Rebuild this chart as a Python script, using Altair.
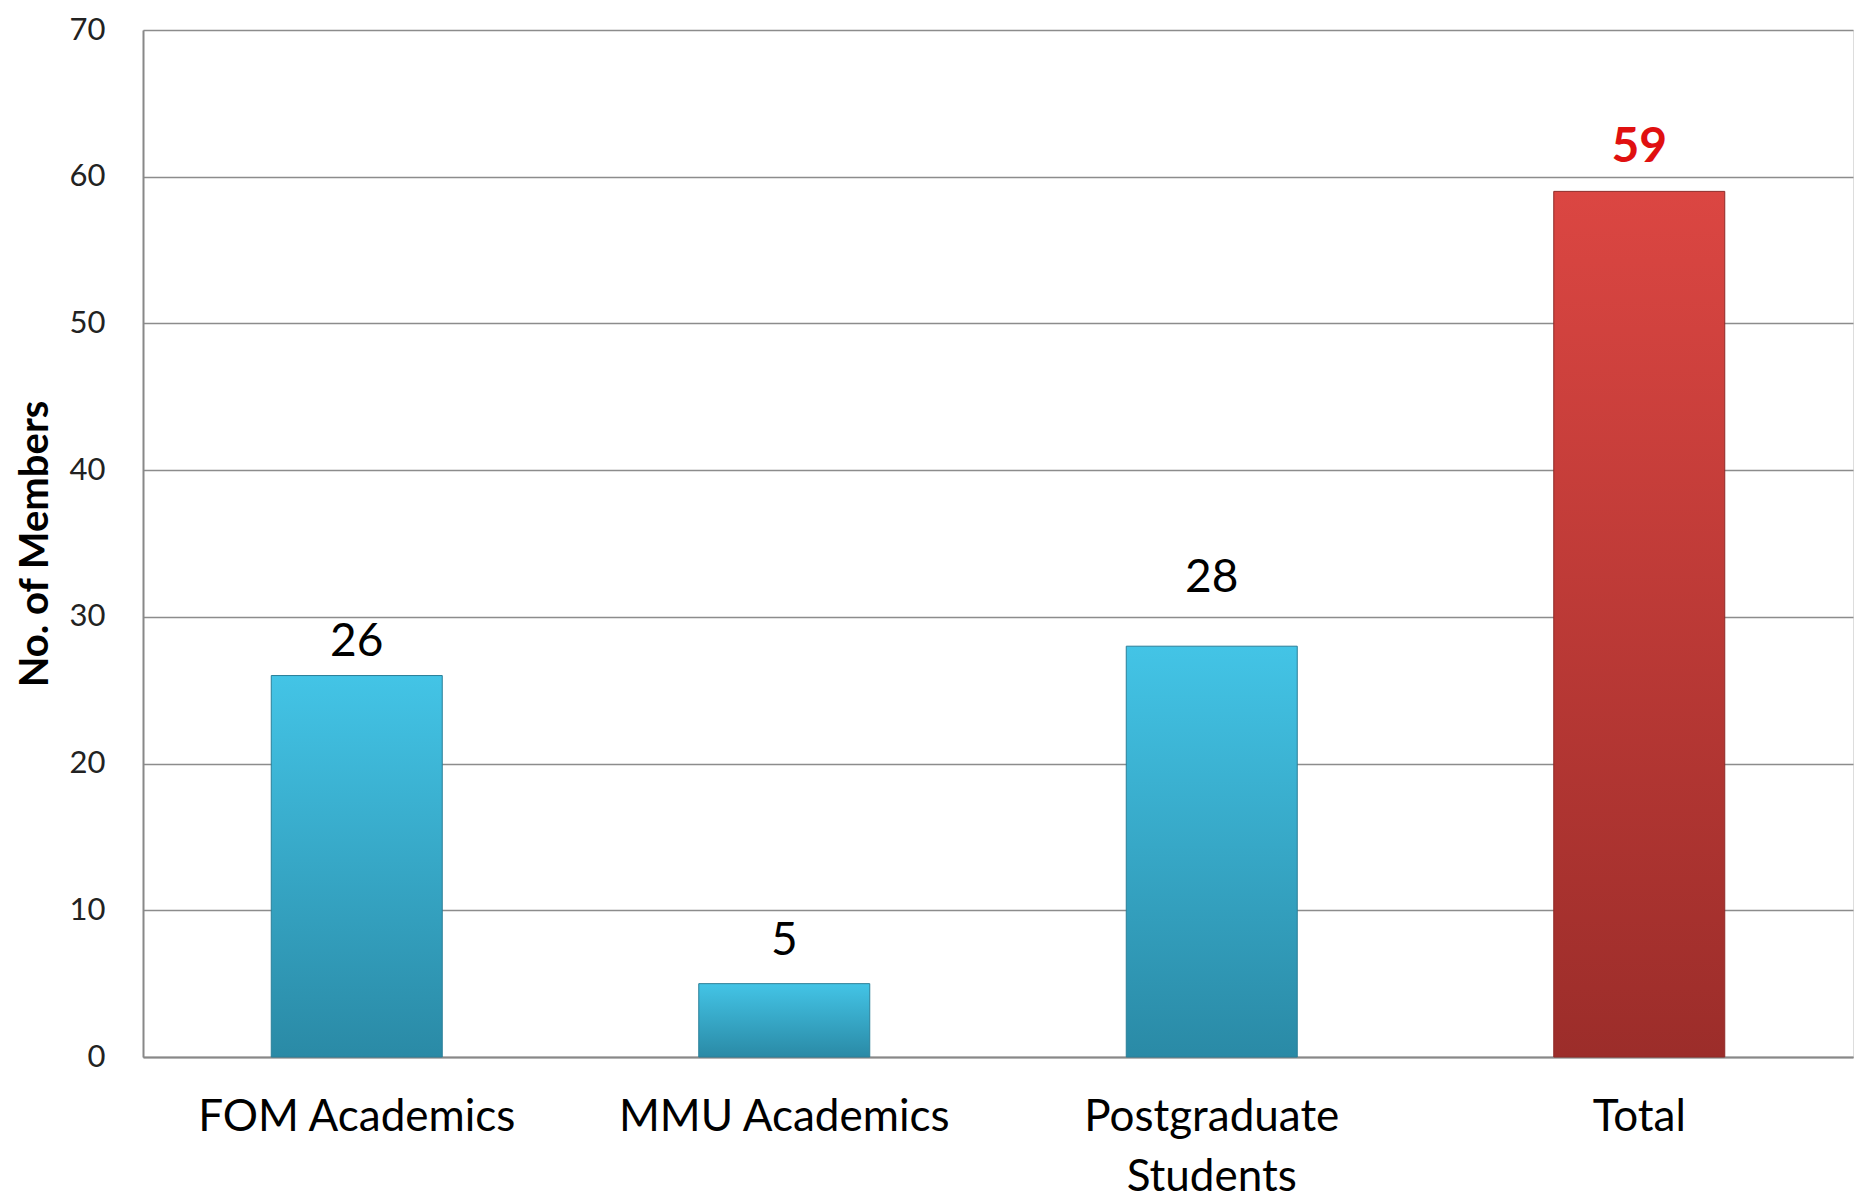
import altair as alt
import pandas as pd

categories = ["FOM Academics", "MMU Academics", "Postgraduate Students", "Total"]
members = [26, 5, 28, 59]
is_total = [False, False, False, True]

df = pd.DataFrame({"cat": categories, "val": members, "total": is_total})

FONT = "Lato"

blue_grad = alt.Gradient(
    gradient="linear", x1=0, y1=0, x2=0, y2=1,
    stops=[alt.GradientStop(color="#43C4E6", offset=0),
           alt.GradientStop(color="#2A8AA6", offset=1)])
red_grad = alt.Gradient(
    gradient="linear", x1=0, y1=0, x2=0, y2=1,
    stops=[alt.GradientStop(color="#DB4642", offset=0),
           alt.GradientStop(color="#9C2D2A", offset=1)])

x_enc = alt.X("cat:N", sort=categories, title=None,
              scale=alt.Scale(paddingInner=0.6, paddingOuter=0.3),
              axis=alt.Axis(labelAngle=0, labelFont=FONT, labelFontSize=44,
                            labelColor="#000000", labelPadding=38,
                            labelLineHeight=60, labelLimit=800, ticks=False,
                            domainColor="#888888", domainWidth=2,
                            labelExpr="datum.label == 'Postgraduate Students' ? ['Postgraduate', 'Students'] : datum.label"))
y_enc = alt.Y("val:Q", title="No. of Members",
              scale=alt.Scale(domain=[0, 70]),
              axis=alt.Axis(values=[0, 10, 20, 30, 40, 50, 60, 70],
                            labelFont=FONT, labelFontSize=31, labelColor="#222222",
                            labelPadding=38, ticks=False,
                            domainColor="#888888", domainWidth=2,
                            gridColor="#8c8c8c", gridWidth=1.5,
                            titleFont=FONT, titleFontSize=40, titleFontWeight="bold",
                            titleColor="#000000", titlePadding=14))

base = alt.Chart(df)

bars_blue = base.transform_filter("!datum.total").mark_bar(
    fill=blue_grad, stroke="#2A7F98", strokeWidth=1).encode(x=x_enc, y=y_enc)
bars_red = base.transform_filter("datum.total").mark_bar(
    fill=red_grad, stroke="#8E2A27", strokeWidth=1).encode(x=x_enc, y=y_enc)

label_dy = {"FOM Academics": -34, "MMU Academics": -43,
            "Postgraduate Students": -68, "Total": -43}

texts = []
for cat, dy in label_dy.items():
    if cat == "Total":
        mk = base.transform_filter(alt.datum.cat == cat).mark_text(
            baseline="middle", dy=dy, font=FONT, fontSize=48, fontWeight="bold",
            color="#E01010")
    else:
        mk = base.transform_filter(alt.datum.cat == cat).mark_text(
            baseline="middle", dy=dy, font=FONT, fontSize=46, color="#000000")
    texts.append(mk.encode(x=x_enc, y=y_enc, text="val:Q"))

chart = alt.layer(bars_blue, bars_red, *texts).properties(
    width=1710, height=1027,
    autosize=alt.AutoSizeParams(type="none"),
    padding={"left": 135, "top": 22, "right": 1, "bottom": 142},
).configure_view(stroke=None).configure(background="white")

chart.save("out.html", embed_options={"renderer": "svg", "actions": False})
